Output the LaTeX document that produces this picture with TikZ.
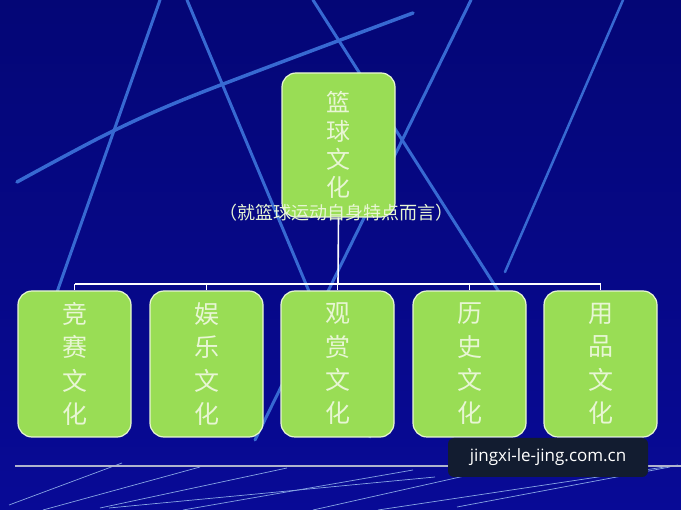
\documentclass[tikz,border=0pt]{standalone}
\usepackage{fontspec}
\newfontfamily\cjk{Noto Sans CJK SC}
\newfontfamily\wmfont{Open Sans}
\usepackage{tikz}
\usetikzlibrary{calc}
\definecolor{bgblue}{RGB}{8,10,150}
\definecolor{bgdark}{RGB}{4,6,118}
\definecolor{streak}{RGB}{55,105,210}
\definecolor{lime}{RGB}{153,221,85}
\definecolor{paletext}{RGB}{232,246,212}
\definecolor{markbox}{RGB}{18,28,48}

\begin{document}
\begin{tikzpicture}[x=1pt,y=-1pt,
	box/.style={draw=paletext, line width=1.2pt, fill=lime, rounded corners=14pt,
		minimum width=113pt, text=paletext, align=center, inner sep=0pt},
	wire/.style={draw=white, line width=1.6pt},
	beam/.style={streak, line width=3pt, line cap=round}]

	\useasboundingbox (0,0) rectangle (681,510);
	\shade[top color=bgdark, bottom color=bgblue] (0,0) rectangle (681,510);

	% streaks in the background
	\begin{scope}
	\clip (0,0) rectangle (681,510);
	\draw[beam] (160,0) -- (50,312);
	\draw[beam] (187,0) -- (370,437);
	\draw[beam] (313,0) -- (520,325);
	\draw[beam] (471,0) -- (255,440);
	\draw[beam, line width=2.5pt] (623,0) -- (505,272);
	\draw[beam, line width=3.5pt] plot[smooth] coordinates {(17,182) (109,133) (200,93) (413,13)};
	\draw[streak!60!white, line width=.7pt] (9,505) -- (122,463);
	\draw[streak!60!white, line width=.7pt] (43,510) -- (200,467);
	\draw[streak!60!white, line width=.7pt] (100,508) -- (287,468);
	\draw[streak!60!white, line width=.7pt] (109,508) -- (435,477);
	\draw[streak!60!white, line width=.7pt] (183,510) -- (413,470);
	\draw[streak!60!white, line width=.7pt] (313,510) -- (478,473);
	\draw[streak!60!white, line width=.7pt] (378,510) -- (678,465);
	\draw[streak!60!white, line width=.7pt] (457,507) -- (670,467);
	\end{scope}
	\draw[color={rgb,255:red,175;green,180;blue,205}, line width=2pt] (15,466) -- (681,466);

	% top box
	\node[box, minimum height=144pt, font=\cjk\fontsize{24}{28.3}\selectfont] (basket) at (338.5,145) {篮\\球\\文\\化};

	% lower boxes
	\foreach \nm/\x/\ca/\cb in {jingsai/74.5/竞/赛, yule/206.5/娱/乐, guanshang/337.5/观/赏, lishi/469.5/历/史, yongpin/600.5/用/品}
		\node[box, minimum height=146pt, font=\cjk\fontsize{25}{33.3}\selectfont] (\nm) at (\x,364) {\ca\\\cb\\文\\化};

	\coordinate (bar) at (338,284);
	\draw[wire] (basket.south) -- (bar);
	\draw[wire] (jingsai.north |- bar) -- (yongpin.north |- bar);
	\foreach \nm in {jingsai,yule,guanshang,lishi,yongpin}
		\draw[wire] (\nm.north) -- (\nm.north |- bar);

	\node[text=paletext, font=\cjk\fontsize{18}{18}\selectfont] (note) at (336.5,213) {（就篮球运动自身特点而言）};

	\node[fill=markbox, rounded corners=6pt, minimum width=200pt, minimum height=39pt, text=white,
		font=\wmfont\fontsize{17}{17}\selectfont] (mark) at (548,457.5) {jingxi-le-jing.com.cn};

\end{tikzpicture}
\end{document}
